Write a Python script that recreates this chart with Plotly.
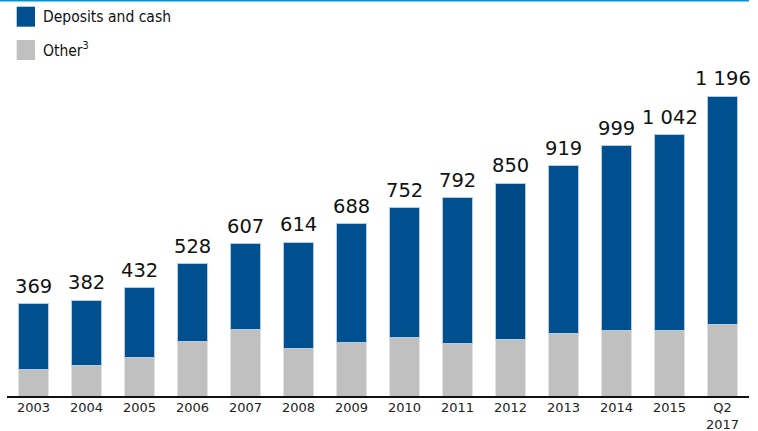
import plotly.graph_objects as go

categories = ["2003", "2004", "2005", "2006", "2007", "2008", "2009", "2010",
              "2011", "2012", "2013", "2014", "2015", "Q2<br>2017"]
totals = [369, 382, 432, 528, 607, 614, 688, 752, 792, 850, 919, 999, 1042, 1196]
other = [107, 120, 154, 218, 265, 188, 212, 233, 208, 224, 250, 262, 262, 286]
deposits = [t - o for t, o in zip(totals, other)]
total_labels = [f"{t:,}".replace(",", " ") for t in totals]

W, H = 758, 431
ML, MR, MT, MB = 7, 9, 70, 35
PW, PH = W - ML - MR, H - MT - MB

def px(x):
    return (x - ML) / PW

def py(y):
    return (H - MB - y) / PH

blue_colors = ["#00508f"] * len(categories)
blue_colors[9] = "#004a88"

fig = go.Figure()
fig.add_trace(go.Bar(x=categories, y=other, name="Other",
                     marker=dict(color="#c0c0c0", line=dict(color="#e2e2e2", width=1)),
                     width=0.56))
fig.add_trace(go.Bar(x=categories, y=deposits, name="Deposits and cash",
                     marker=dict(color=blue_colors, line=dict(color="#b5cbe2", width=1)),
                     width=0.56))

for i, (t, lab) in enumerate(zip(totals, total_labels)):
    fig.add_annotation(x=i, y=t, text=lab, showarrow=False, yanchor="bottom",
                       yshift=4, font=dict(family="DejaVu Sans", size=19.5, color="#111111"))

# top rule
fig.add_shape(type="line", xref="paper", yref="paper", x0=px(0), x1=px(749),
              y0=py(0.8), y1=py(0.8), line=dict(color="#0096d6", width=1.6))

# legend
legend_items = [("Deposits and cash", "#00508f", 6.7, 26.7),
                ("Other<sup>3</sup>", "#c0c0c0", 40, 60)]
for text, col, y0, y1 in legend_items:
    fig.add_shape(type="rect", xref="paper", yref="paper", x0=px(16.7), x1=px(35),
                  y0=py(y1), y1=py(y0), fillcolor=col, line=dict(width=0))
    fig.add_annotation(xref="paper", yref="paper", x=px(41), y=py((y0 + y1) / 2),
                       xanchor="left", yanchor="middle", text=text, showarrow=False,
                       font=dict(family="DejaVu Sans Condensed, Liberation Sans Narrow, DejaVu Sans",
                                 size=15.5, color="#111111"))

fig.update_layout(
    width=W, height=H, margin=dict(l=ML, r=MR, t=MT, b=MB, autoexpand=False),
    barmode="stack", showlegend=False,
    plot_bgcolor="white", paper_bgcolor="white",
    xaxis=dict(type="category", range=[-0.5, len(categories) - 0.5], automargin=False,
               showline=True, linecolor="#111111", linewidth=2, ticklabelstandoff=-2,
               showgrid=False, ticks="", tickfont=dict(family="DejaVu Sans", size=13, color="#222222"),
               fixedrange=True),
    yaxis=dict(range=[0, PH / 0.2505], visible=False, showgrid=False, fixedrange=True,
               automargin=False),
)

fig.write_html("out.html")
